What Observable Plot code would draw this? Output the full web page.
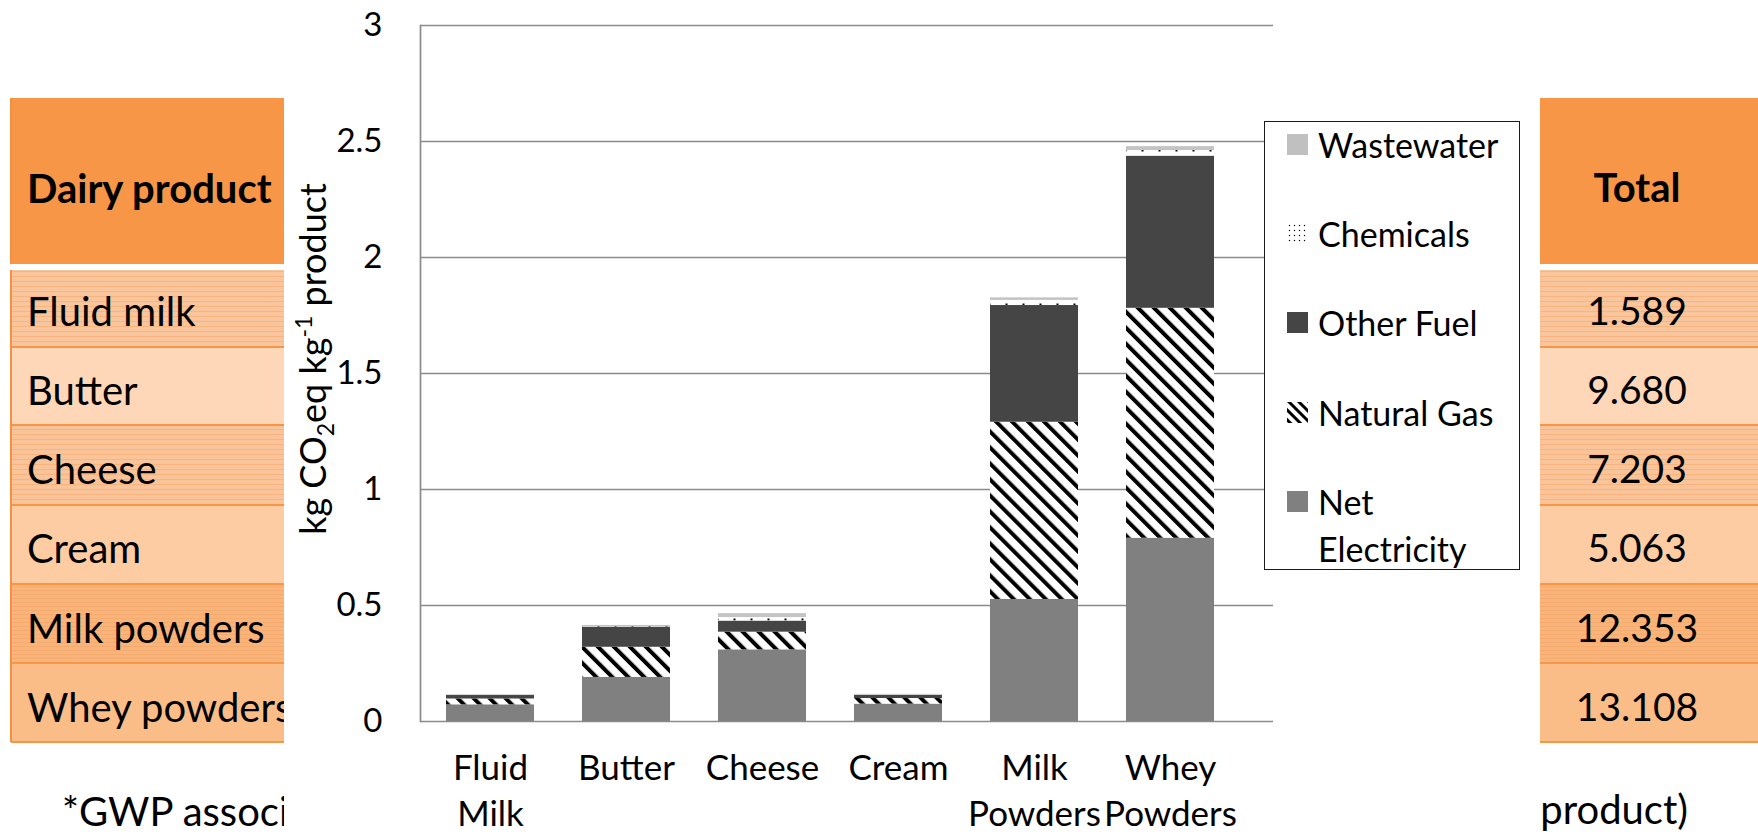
<!DOCTYPE html>
<html>
<head>
<meta charset="utf-8">
<script src="https://cdn.jsdelivr.net/npm/d3@7"></script>
<script src="https://cdn.jsdelivr.net/npm/@observablehq/plot@0.6"></script>
<style>
  html, body { margin: 0; padding: 0; background: #fff; }
  #page { position: relative; width: 1758px; height: 836px; overflow: hidden; background: #fff; font-family: Lato, "Open Sans", sans-serif; color: #000; }
  .cell { position: absolute; box-sizing: border-box; }
  .txt { position: absolute; white-space: nowrap; line-height: 1; }
  #chart { position: absolute; left: 284px; top: 0; width: 1256px; height: 836px; background: #fff; }
  #legend { position: absolute; left: 1264px; top: 121px; width: 256px; height: 449px; box-sizing: border-box; border: 1.5px solid #1a1a1a; background: #fff; }
  .lg-sw { position: absolute; left: 22px; width: 21px; height: 21px; }
  .lg-tx { position: absolute; left: 53px; width: 196px; font-size: 34px; line-height: 47px; white-space: normal; }
</style>
</head>
<body>
<div id="page"></div>
<script>
// ---------- data ----------
const categories = ["Fluid Milk", "Butter", "Cheese", "Cream", "Milk Powders", "Whey Powders"];
const categoryLabels = ["Fluid\nMilk", "Butter", "Cheese", "Cream", "Milk\nPowders", "Whey\nPowders"];
const sources = ["Net Electricity", "Natural Gas", "Other Fuel", "Chemicals", "Wastewater"];
const netElectricity = [0.072, 0.190, 0.309, 0.075, 0.526, 0.790];
const naturalGas     = [0.025, 0.130, 0.076, 0.024, 0.764, 0.991];
const otherFuel      = [0.015, 0.087, 0.048, 0.014, 0.503, 0.656];
const chemicals      = [0.001, 0.002, 0.015, 0.001, 0.022, 0.024];
const wastewater     = [0.003, 0.005, 0.017, 0.003, 0.011, 0.017];
const yTicks = [0, 0.5, 1, 1.5, 2, 2.5, 3];
const yTickLabels = ["0", "0.5", "1", "1.5", "2", "2.5", "3"];

const tableHeaderLeft = "Dairy product";
const tableHeaderRight = "Total";
const tableProducts = ["Fluid milk", "Butter", "Cheese", "Cream", "Milk powders", "Whey powders"];
const tableTotals = ["1.589", "9.680", "7.203", "5.063", "12.353", "13.108"];
const captionLeft = "*GWP associated";
const captionRight = "product)";

// ---------- styles (not data) ----------
const sourceFills = ["#808080", "url(#pat-ng)", "#454545", "url(#pat-chem)", "#c4c4c4"];
const legendFills = ["#808080", "url(#pat-ng-lg)", "#454545", "url(#pat-chem-lg)", "#c0c0c0"];
const rowBounds = [270, 347, 425, 505, 584, 663, 742];
const rowBaselines = [326, 405, 484, 563, 643, 722];
const rowStyles = [
  "background:#f9c59c; background-image:repeating-linear-gradient(0deg, rgba(247,150,70,0.35) 0 1px, transparent 1px 5px);",
  "background:#fdd7b8;",
  "background:#f9c49a; background-image:repeating-linear-gradient(0deg, rgba(247,150,70,0.35) 0 1px, transparent 1px 5px);",
  "background:#fdcca2;",
  "background:#f8b47d; background-image:repeating-linear-gradient(0deg, rgba(240,140,60,0.25) 0 1px, transparent 1px 4px);",
  "background:#fbbd88;"
];

const page = document.getElementById("page");
function div(cls, css, text) {
  const d = document.createElement("div");
  d.className = cls;
  d.style.cssText = css;
  if (text != null) d.textContent = text;
  page.appendChild(d);
  return d;
}
const FS = 40, ASC = 0.886;
function textAt(text, x, baseline, opts = {}) {
  const size = opts.size || FS;
  const anchor = opts.anchor || "left";
  let css = `top:${baseline - ASC * size}px; font-size:${size}px; ${opts.bold ? "font-weight:700;" : ""}`;
  if (anchor === "left") css += `left:${x}px;`;
  else if (anchor === "right") css += `right:${1758 - x}px;`;
  else css += `left:${x - 200}px; width:400px; text-align:center;`;
  return div("txt", css, text);
}

// ---------- background table ----------
const cols = [{ x: 11, w: 320 }, { x: 1540, w: 218 }];
for (const c of cols) {
  div("cell", `left:${c.x}px; top:98px; width:${c.w}px; height:166px; background:#f79646;`);
  rowStyles.forEach((st, i) => {
    div("cell", `left:${c.x}px; top:${rowBounds[i]}px; width:${c.w}px; height:${rowBounds[i + 1] - rowBounds[i]}px; ${st}`);
    if (i > 0) div("cell", `left:${c.x}px; top:${rowBounds[i] - 1}px; width:${c.w}px; height:2px; background:#f79646;`);
  });
  div("cell", `left:${c.x}px; top:${rowBounds[6] - 1}px; width:${c.w}px; height:2px; background:#f79646;`);
}
div("cell", "left:10px; top:98px; width:2px; height:644px; background:#f5903f;");
div("cell", "left:10px; top:264px; width:330px; height:6px; background:#fff;");
div("cell", "left:1540px; top:264px; width:218px; height:6px; background:#fff;");

textAt(tableHeaderLeft, 27, 203, { bold: true });
textAt(tableHeaderRight, 1637, 202, { bold: true, anchor: "middle" });
tableProducts.forEach((p, i) => textAt(p, 27, rowBaselines[i]));
tableTotals.forEach((t, i) => textAt(t, 1637, rowBaselines[i], { anchor: "middle", size: 39 }));
textAt(captionLeft, 62, 826);
textAt(captionRight, 1688, 824, { anchor: "right" });

// ---------- chart ----------
const series = [netElectricity, naturalGas, otherFuel, chemicals, wastewater];
const data = categories.flatMap((c, i) => sources.map((s, j) => ({ category: c, source: s, value: series[j][i] })));

const chartDiv = document.createElement("div");
chartDiv.id = "chart";
page.appendChild(chartDiv);

const plot = Plot.plot({
  width: 1256,
  height: 836,
  marginLeft: 136,
  marginRight: 267,
  marginTop: 25,
  marginBottom: 115,
  style: { fontFamily: "Lato, 'Open Sans', sans-serif", fontSize: "33px", color: "#000", background: "#fff", overflow: "visible" },
  x: { domain: categories, paddingInner: 0.354, paddingOuter: 0.31, align: 0.3, axis: null },
  y: { domain: [0, 3], axis: null },
  color: { domain: sources, range: sourceFills },
  marks: [
    Plot.gridY({ ticks: yTicks, stroke: "#8a8a8a", strokeOpacity: 1, strokeWidth: 1.7 }),
    Plot.barY(data, { x: "category", y: "value", fill: "source" }),
    Plot.frame({ anchor: "left", stroke: "#8a8a8a", strokeWidth: 1.7 }),
    Plot.axisY({ ticks: yTicks, tickSize: 0, tickPadding: 38, tickFormat: (d) => yTickLabels[yTicks.indexOf(d)], label: null, fontSize: 33 }),
    Plot.axisX({ tickSize: 0, tickPadding: 26, tickFormat: (d) => categoryLabels[categories.indexOf(d)], label: null, fontSize: 35, lineHeight: 1.31 })
  ]
});
chartDiv.appendChild(plot);

// patterns
const svg = d3.select(plot);
const defs = svg.insert("defs", ":first-child");
function stripes(id, size, thick) {
  const p = defs.append("pattern").attr("id", id).attr("patternUnits", "userSpaceOnUse")
    .attr("width", size).attr("height", size).attr("patternTransform", "rotate(-45)");
  p.append("rect").attr("width", size).attr("height", size).attr("fill", "#fff");
  p.append("rect").attr("width", thick).attr("height", size).attr("fill", "#000");
}
stripes("pat-ng", 11.3, 4);
stripes("pat-ng-lg", 7, 3);
function dots(id, w, h, r) {
  const p = defs.append("pattern").attr("id", id).attr("patternUnits", "userSpaceOnUse")
    .attr("width", w).attr("height", h);
  p.append("rect").attr("width", w).attr("height", h).attr("fill", "#fff");
  p.append("rect").attr("x", w / 2 - r / 2).attr("y", h / 2 - r / 2).attr("width", r).attr("height", r).attr("fill", "#000");
}
dots("pat-chem", 17, 7, 2);
dots("pat-chem-lg", 5, 5, 1.2);

// y axis title with sub/superscript
const yt = svg.append("text")
  .attr("transform", "translate(42,359) rotate(-90)")
  .attr("text-anchor", "middle")
  .attr("font-size", 36)
  .attr("fill", "#000");
yt.append("tspan").text("kg CO");
yt.append("tspan").attr("font-size", 23).attr("dy", 8).text("2");
yt.append("tspan").attr("dy", -8).text("eq kg");
yt.append("tspan").attr("font-size", 23).attr("dy", -14).text("-1");
yt.append("tspan").attr("dy", 14).text(" product");

// ---------- legend ----------
const legend = document.createElement("div");
legend.id = "legend";
page.appendChild(legend);
const legendOrder = sources.map((s, j) => ({ s, fill: legendFills[j] })).reverse();
legendOrder.forEach((e, i) => {
  const cy = 22 + 89.4 * i;
  const sw = document.createElementNS("http://www.w3.org/2000/svg", "svg");
  sw.setAttribute("class", "lg-sw");
  sw.setAttribute("width", 21); sw.setAttribute("height", 21);
  sw.style.top = (cy - 10.5) + "px";
  const r = document.createElementNS("http://www.w3.org/2000/svg", "rect");
  r.setAttribute("width", 21); r.setAttribute("height", 21); r.setAttribute("fill", e.fill);
  sw.appendChild(r);
  legend.appendChild(sw);
  const tx = document.createElement("div");
  tx.className = "lg-tx";
  tx.style.top = (cy - 23.5) + "px";
  tx.textContent = e.s;
  legend.appendChild(tx);
});
</script>
</body>
</html>
